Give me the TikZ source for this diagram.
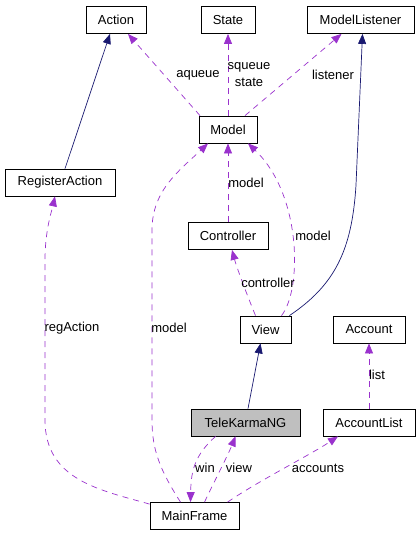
\documentclass[tikz,border=0pt]{standalone}
\usepackage{fontspec}
\setmainfont{Liberation Sans}
\usepackage{tikz}
\usetikzlibrary{arrows.meta}
\definecolor{dep}{HTML}{9A32CD}
\definecolor{inh}{HTML}{191970}
\definecolor{hilite}{HTML}{BFBFBF}

\begin{document}
\begin{tikzpicture}[x=1pt,y=-1pt,
  cls/.style={draw,line width=.8pt,inner sep=0pt,minimum height=27pt,font=\fontsize{13}{15}\selectfont},
  lbl/.style={inner sep=0pt,font=\fontsize{13}{15}\selectfont},
  uses/.style={dep,line width=.7pt,dash pattern=on 6pt off 5pt,-{Triangle[length=10pt,width=8pt]}},
  isa/.style={inh,line width=.7pt,-{Triangle[length=10pt,width=8pt]}}]
  \useasboundingbox (0,0) rectangle (420,536);
  \foreach \nm/\xx/\yy/\ww in {Action/116/20/60,State/228/20/54,ModelListener/360.5/20/107,
    Model/228/129.5/58,RegisterAction/60/182.5/110,Controller/228/236/80,View/265.5/329.5/51,
    Account/369/329.5/72,AccountList/369/422.5/92,MainFrame/194.5/516/89}{
    \node[cls,minimum width=\ww pt] (\nm) at (\xx,\yy) {\nm};
  }
  \node[cls,fill=hilite,minimum width=109pt] (TeleKarmaNG) at (245.5,422.5) {TeleKarmaNG};
  \draw[isa] ([xshift=5pt]RegisterAction.north) -- ([xshift=-6pt]Action.south);
  \draw[uses] ([xshift=-28pt]Model.north) -- ([xshift=12pt]Action.south);
  \draw[uses] (Model.north) -- (State.south);
  \draw[uses] ([xshift=17pt]Model.north) -- ([xshift=-19pt]ModelListener.south);
  \draw[isa] ([xshift=-2pt]View.north east) .. controls (335,285) and (352,250) .. (356,185) -- ([xshift=2pt]ModelListener.south);
  \draw[uses] (Controller.north) -- (Model.south);
  \draw[uses] ([xshift=16pt]View.north) .. controls (302,290) and (302,195) .. ([xshift=20pt]Model.south);
  \draw[uses] ([xshift=-14pt]MainFrame.north) .. controls (160,470) and (152,450) .. (152,420) -- (152,230)
    .. controls (152,190) and (180,170) .. ([xshift=-20pt]Model.south);
  \draw[uses] ([yshift=-2pt]MainFrame.north west) .. controls (100,490) and (45,480) .. (45,420) -- (45,260)
    .. controls (45,230) and (52,210) .. ([xshift=-5pt]RegisterAction.south);
  \draw[uses] ([xshift=-10pt]View.north) .. controls (245,290) and (236,265) .. ([xshift=4pt]Controller.south);
  \draw[isa] ([xshift=2.5pt]TeleKarmaNG.north) -- ([xshift=-5pt]View.south);
  \draw[uses] (AccountList.north) -- (Account.south);
  \draw[uses] ([xshift=-30pt]TeleKarmaNG.south) .. controls (195,455) and (191,470) .. ([xshift=-4pt]MainFrame.north);
  \draw[uses] ([xshift=10pt]MainFrame.north) .. controls (215,480) and (228,455) .. ([xshift=-10pt]TeleKarmaNG.south);
  \draw[uses] ([xshift=33pt]MainFrame.north) .. controls (260,480) and (310,455) .. ([xshift=-31pt]AccountList.south);
  \node[lbl] (aqueue) at (198,75) {aqueue};
  \node[lbl] (squeue) at (249,67) {squeue};
  \node[lbl] (state) at (249,82) {state};
  \node[lbl] (listener) at (333,75) {listener};
  \node[lbl] (ctrlModel) at (246,183) {model};
  \node[lbl] (viewModel) at (313,236) {model};
  \node[lbl] (controller) at (268,283) {controller};
  \node[lbl] (regAction) at (72,328) {regAction};
  \node[lbl] (frameModel) at (169,328) {model};
  \node[lbl] (list) at (377,375) {list};
  \node[lbl] (win) at (205,468) {win};
  \node[lbl] (view) at (239,468) {view};
  \node[lbl] (accounts) at (318,468) {accounts};
\end{tikzpicture}
\end{document}
